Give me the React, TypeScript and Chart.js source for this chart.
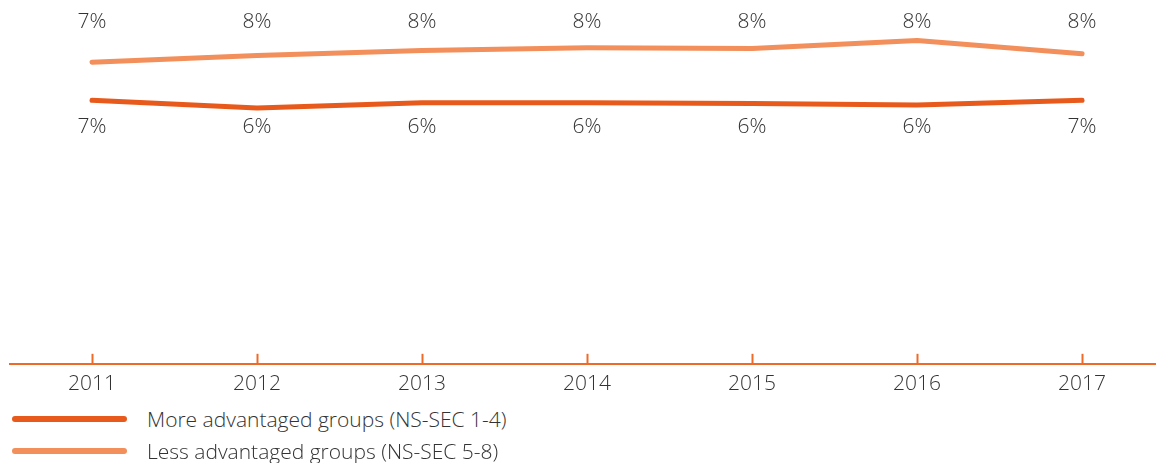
import React, { useEffect, useRef } from "react";
import { Chart, registerables } from "chart.js";

Chart.register(...registerables);

const years = [2011, 2012, 2013, 2014, 2015, 2016, 2017];
const moreAdvantaged = [6.52, 6.33, 6.46, 6.46, 6.44, 6.4, 6.52];
const lessAdvantaged = [7.46, 7.63, 7.75, 7.82, 7.8, 8.0, 7.67];
const moreLabels = ["7%", "6%", "6%", "6%", "6%", "6%", "7%"];
const lessLabels = ["7%", "8%", "8%", "8%", "8%", "8%", "8%"];
const seriesNames = ["More advantaged groups (NS-SEC 1-4)", "Less advantaged groups (NS-SEC 5-8)"];

const DARK = "#e85a1b";
const LIGHT = "#f28f5b";
const AXIS = "#ee6a28";
const TEXT = "#333333";
const FONT = "'Open Sans', 'Liberation Sans', sans-serif";
const FSIZE = 21;

const overlayPlugin = {
  id: "overlay",
  afterDraw(chart: any) {
    const { ctx, chartArea } = chart;
    const x = chart.scales.x;
    ctx.save();
    ctx.strokeStyle = AXIS;
    ctx.lineWidth = 2;
    years.forEach((yr) => {
      const px = Math.round(x.getPixelForValue(yr)) + 0.5;
      ctx.beginPath();
      ctx.moveTo(px, chartArea.bottom - 10);
      ctx.lineTo(px, chartArea.bottom);
      ctx.stroke();
    });
    ctx.fillStyle = TEXT;
    ctx.font = `300 ${FSIZE}px ${FONT}`;
    ctx.textAlign = "center";
    ctx.textBaseline = "middle";
    years.forEach((yr, i) => {
      const px = x.getPixelForValue(yr);
      ctx.fillText(lessLabels[i], px, 22);
      ctx.fillText(moreLabels[i], px, 127);
    });
    ctx.restore();
  },
};

export default function App() {
  const ref = useRef<HTMLCanvasElement | null>(null);
  useEffect(() => {
    if (!ref.current) return;
    const chart = new Chart(ref.current, {
      type: "line",
      data: {
        datasets: [
          {
            label: seriesNames[0],
            data: years.map((y, i) => ({ x: y, y: moreAdvantaged[i] })),
            borderColor: DARK,
            borderWidth: 5,
            pointRadius: 0,
            borderCapStyle: "round",
            borderJoinStyle: "round",
            tension: 0,
          },
          {
            label: seriesNames[1],
            data: years.map((y, i) => ({ x: y, y: lessAdvantaged[i] })),
            borderColor: LIGHT,
            borderWidth: 5,
            pointRadius: 0,
            borderCapStyle: "round",
            borderJoinStyle: "round",
            tension: 0,
          },
        ],
      },
      options: {
        animation: false,
        responsive: false,
        maintainAspectRatio: false,
        layout: { padding: { left: 10, right: 0, top: 0, bottom: 0 } },
        plugins: { legend: { display: false }, tooltip: { enabled: false } },
        scales: {
          x: {
            type: "linear",
            min: 2010.503,
            max: 2017.448,
            afterBuildTicks: (scale: any) => {
              scale.ticks = years.map((v) => ({ value: v }));
            },
            grid: { display: false, drawTicks: false },
            border: { display: true, color: AXIS, width: 2 },
            ticks: {
              padding: 8,
              color: TEXT,
              font: { family: FONT, size: FSIZE, weight: "300" as any },
              callback: (v: any) => String(v),
              maxRotation: 0,
              autoSkip: false,
            },
          },
          y: {
            display: false,
            min: 0,
            max: 9,
          },
        },
      },
      plugins: [overlayPlugin],
    });
    return () => chart.destroy();
  }, []);

  const legendItem = (color: string, text: string, top: number) => (
    <div style={{ position: "absolute", left: 0, top, height: 24, width: 700 }}>
      <div
        style={{
          position: "absolute",
          left: 12,
          top: 9,
          width: 115,
          height: 6,
          borderRadius: 3,
          background: color,
        }}
      />
      <div
        style={{
          position: "absolute",
          left: 147,
          top: 0,
          lineHeight: "24px",
          fontSize: FSIZE,
          fontWeight: 300,
          fontFamily: FONT,
          color: TEXT,
          whiteSpace: "nowrap",
        }}
      >
        {text}
      </div>
    </div>
  );

  return (
    <div style={{ position: "fixed", left: 0, top: 0, width: 1156, height: 463, background: "#fff" }}>
      <canvas ref={ref} width={1156} height={405} style={{ position: "absolute", left: 0, top: 0 }} />
      {legendItem(DARK, seriesNames[0], 407)}
      {legendItem(LIGHT, seriesNames[1], 439)}
    </div>
  );
}
